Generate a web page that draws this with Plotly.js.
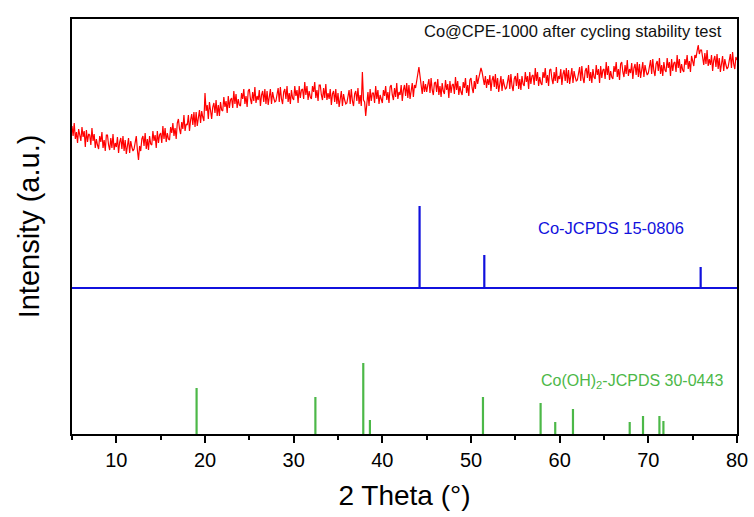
<!DOCTYPE html>
<html>
<head>
<meta charset="utf-8">
<script src="https://cdn.plot.ly/plotly-3.0.1.min.js"></script>
<style>html,body{margin:0;padding:0;background:#fff;}#chart{width:754px;height:517px;}</style>
</head>
<body>
<div id="chart"></div>
<script>
// Measured XRD pattern: 2θ from 5° to 80° in 0.125° steps (intensity, a.u.), one row per degree
const sampleStart = 5;
const sampleStep = 0.125;
const sampleIntensity = [
308,298,311,295,302,291,305,297,  293,307,297,303,287,304,292,300,  299,289,306,293,300,286,295,289,
285,298,292,302,286,294,283,299,  299,289,284,296,286,300,284,291,  287,297,281,292,296,285,298,283,
294,280,292,296,281,293,287,283,  285,292,298,284,274,288,283,295,  298,288,301,285,295,284,298,290,
289,303,293,299,286,303,291,299,  301,291,308,295,306,292,301,295,  294,307,301,311,298,306,295,311,
315,305,300,312,305,319,303,310,  309,319,303,314,320,309,322,307,  322,308,320,324,311,323,317,313,
341,323,329,315,332,320,315,327,  331,321,334,318,329,318,332,324,  323,337,327,333,321,338,326,334,
336,326,343,330,340,326,335,329,  328,341,335,345,330,338,327,343,  345,335,330,342,333,347,331,338,
334,344,328,339,343,332,345,330,  343,329,341,345,330,342,336,332,  333,340,346,332,347,335,330,342,
345,335,348,332,341,330,344,336,  334,348,338,344,331,348,336,344,  345,335,352,339,348,334,343,337,
335,348,342,352,336,344,333,349,  349,339,334,346,336,350,334,341,  335,345,329,340,343,332,345,330,
341,327,339,343,328,340,334,330,  331,338,344,330,345,333,328,340,  343,333,346,330,339,328,362,334,
332,318,336,342,328,345,333,341,  341,331,348,335,344,330,339,333,  331,344,338,348,334,342,331,347,
349,339,334,346,337,351,335,342,  339,349,333,344,349,338,351,336,  349,335,347,351,337,349,346,352,
360,367,358,350,340,353,342,350,  342,349,355,341,356,344,339,351,  352,342,355,339,348,337,351,343,
340,354,344,350,336,353,341,349,  350,340,357,344,353,339,348,342,  339,352,346,356,341,349,338,354,
356,346,341,353,345,359,350,356,  360,366,362,355,349,358,346,355,  349,359,343,354,358,347,360,345,
356,342,354,358,343,355,349,345,  346,353,359,345,360,348,343,355,  358,348,361,345,355,344,358,350,
348,362,352,358,345,362,350,358,  359,349,366,353,362,348,357,351,  349,362,356,366,351,359,348,364,
365,355,350,362,353,367,351,358,  355,365,349,360,364,353,366,351,  364,350,362,366,351,363,357,353,
354,361,367,353,368,356,351,363,  366,356,369,353,362,351,365,357,  355,369,359,365,351,368,356,364,
365,355,372,359,368,354,363,357,  355,368,362,372,357,365,354,370,  372,362,357,369,360,374,358,365,
361,371,355,366,370,359,372,357,  370,356,368,372,357,369,363,359,  361,368,374,360,375,363,358,370,
373,363,376,360,369,358,372,364,  362,376,366,372,358,375,363,371,  372,362,379,366,375,361,370,364,
362,375,369,379,365,373,362,378,  374,368,379,376,383,389,380,384,  384,374,369,381,370,384,368,375,
369,379,363,374,378,367,380,365,  376,362,374,378,363,375,369,365,  367,374,380,366,382,370,365,377,
374
];

// Co reference (JCPDS 15-0806)
const coPositions = [44.2, 51.5, 75.9];
const coHeights = [82, 33, 21];
const coBaseline = 146;

// Co(OH)2 reference (JCPDS 30-0443)
const cohPositions = [19.05, 32.45, 37.85, 38.6, 51.35, 57.85, 59.5, 61.5, 67.9, 69.4, 71.25, 71.7];
const cohHeights = [46, 37, 71, 14, 37, 31, 12, 25, 12, 18, 18, 13];

const xTickValues = [10, 20, 30, 40, 50, 60, 70, 80];
const xTickLabels = ['10', '20', '30', '40', '50', '60', '70', '80'];

const labelSample = 'Co@CPE-1000 after cycling stability test';
const labelCo = 'Co-JCPDS 15-0806';
const labelCoh = 'Co(OH)<sub>2</sub>-JCPDS 30-0443';

// Build stick-pattern paths from the reference arrays
const coX = [5], coY = [coBaseline];
coPositions.forEach((p, i) => {
  coX.push(p, p, p);
  coY.push(coBaseline, coBaseline + coHeights[i], coBaseline);
});
coX.push(80); coY.push(coBaseline);

const cohX = [], cohY = [];
cohPositions.forEach((p, i) => {
  cohX.push(p, p, null);
  cohY.push(0, cohHeights[i], null);
});

const RED = '#ff0000', BLUE = '#1111dd', GREEN = '#4cb848';
const FONT = 'Liberation Sans, Arial, sans-serif';

const traces = [
  {type: 'scatter', mode: 'lines', x0: sampleStart, dx: sampleStep, y: sampleIntensity,
   line: {color: RED, width: 1.2}, hoverinfo: 'skip'},
  {type: 'scatter', mode: 'lines', x: coX, y: coY,
   line: {color: BLUE, width: 2.2}, hoverinfo: 'skip'},
  {type: 'scatter', mode: 'lines', x: cohX, y: cohY, connectgaps: false,
   line: {color: GREEN, width: 2.2}, hoverinfo: 'skip'}
];

const layout = {
  width: 754, height: 517,
  margin: {l: 72, r: 17, t: 19, b: 83},
  paper_bgcolor: '#ffffff', plot_bgcolor: '#ffffff',
  showlegend: false,
  font: {family: FONT, color: '#000'},
  xaxis: {
    range: [5, 80], showgrid: false, zeroline: false,
    showline: true, linecolor: '#000', linewidth: 2, mirror: true,
    ticks: 'outside', ticklen: 7, tickwidth: 2, tickcolor: '#000',
    tickvals: xTickValues, ticktext: xTickLabels,
    tickfont: {family: FONT, size: 20, color: '#000'},
    minor: {tickvals: [5, 15, 25, 35, 45, 55, 65, 75], ticks: 'outside', ticklen: 4, tickwidth: 2, tickcolor: '#000'},
    title: {text: '2 Theta (°)', font: {family: FONT, size: 28, color: '#000'}, standoff: 15}
  },
  yaxis: {
    range: [0, 415], showgrid: false, zeroline: false,
    showline: true, linecolor: '#000', linewidth: 2, mirror: true,
    ticks: '', showticklabels: false,
    title: {text: 'Intensity (a.u.)', font: {family: FONT, size: 29, color: '#000'}, standoff: 22}
  },
  annotations: [
    {text: labelSample, xref: 'paper', yref: 'paper', x: 0.98, y: 0.97, xanchor: 'right', yanchor: 'middle',
     showarrow: false, font: {family: FONT, size: 16.5, color: '#111'}},
    {text: labelCo, xref: 'x', yref: 'y', x: 65.8, y: 206, xanchor: 'center', yanchor: 'middle',
     showarrow: false, font: {family: FONT, size: 16.5, color: BLUE}},
    {text: labelCoh, xref: 'x', yref: 'y', x: 68.2, y: 53, xanchor: 'center', yanchor: 'middle',
     showarrow: false, font: {family: FONT, size: 16, color: GREEN}}
  ]
};

Plotly.newPlot('chart', traces, layout, {staticPlot: true, displayModeBar: false});
</script>
</body>
</html>
